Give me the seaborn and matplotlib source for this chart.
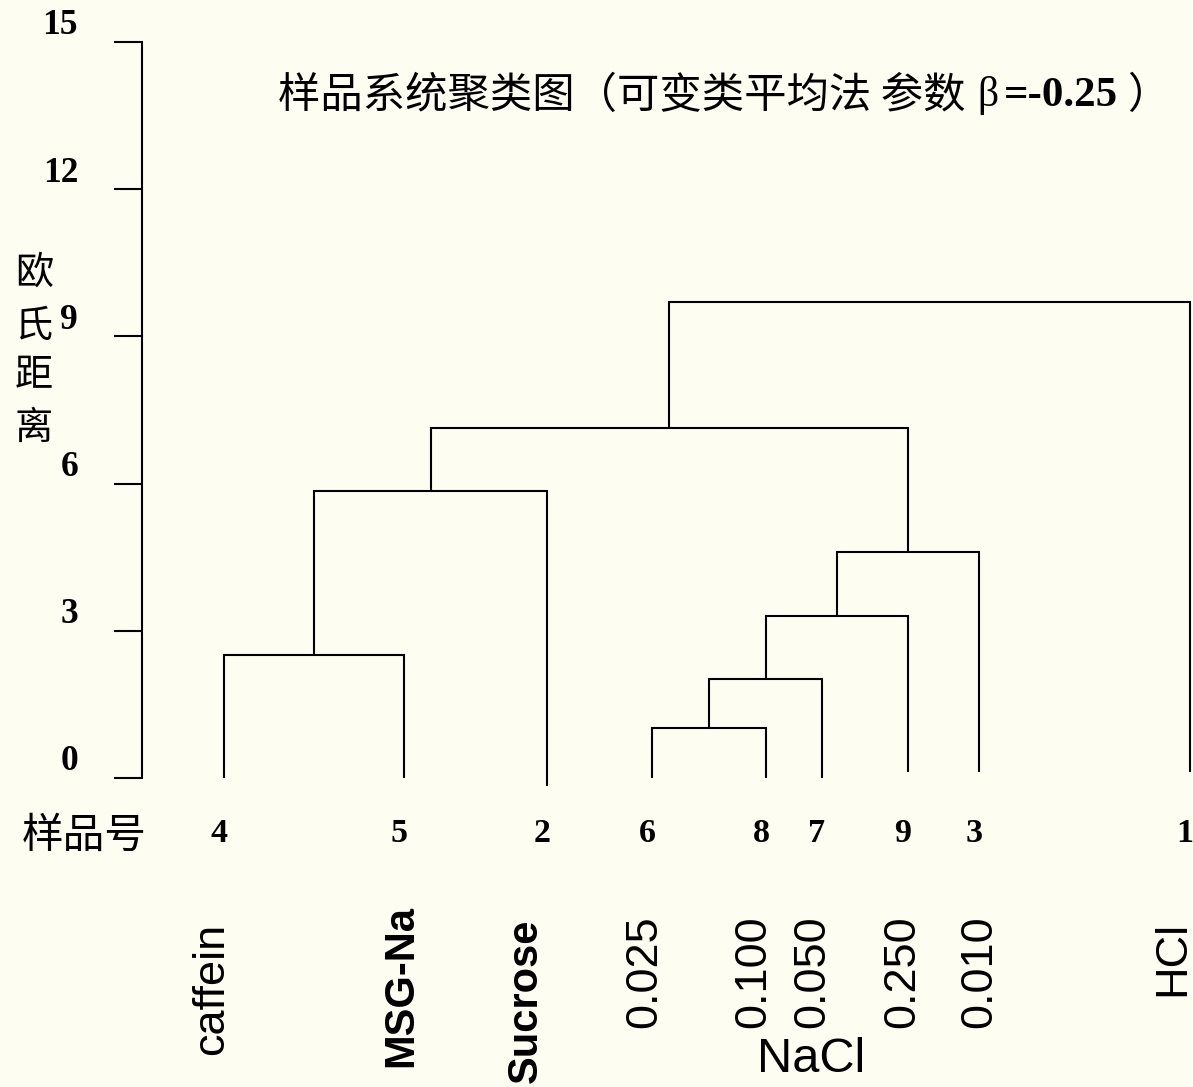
import matplotlib
matplotlib.use("Agg")
import matplotlib.pyplot as plt
import matplotlib.transforms as mtransforms
import numpy as np
import pandas as pd
import seaborn as sns

# ---- data -------------------------------------------------------------
# Sample numbers in dendrogram leaf order
sample_ids = ["4", "5", "2", "6", "8", "7", "9", "3", "1"]
# Sample descriptions written under each leaf
sample_names = ["caffein", "MSG-Na", "Sucrose", "0.025", "0.100",
                "0.050", "0.250", "0.010", "HCl"]
# Leaf positions along the horizontal axis
leaf_pos = [0.82, 2.62, 4.05, 5.10, 6.24, 6.80, 7.66, 8.37, 10.48]
# Height at which each leaf stem starts
leaf_base = [0.0, 0.0, -0.16, 0.0, 0.0, 0.0, 0.13, 0.13, 0.13]

# Agglomeration steps. Nodes 0-8 are the leaves; step k creates node 9 + k.
merge_left = [0, 3, 10, 11, 12, 9, 14, 15]
merge_right = [1, 4, 5, 6, 7, 2, 13, 8]
merge_height = [2.51, 1.02, 2.02, 3.30, 4.61, 5.85, 7.13, 9.70]

y_ticks = [0, 3, 6, 9, 12, 15]

# ---- style ------------------------------------------------------------
sns.set_style("white")
CJK = ["Noto Sans CJK SC", "DejaVu Sans"]
SERIF = ["Liberation Serif", "DejaVu Serif"]
SANS = ["Liberation Sans", "DejaVu Sans"]
plt.rcParams["font.family"] = CJK
plt.rcParams["axes.unicode_minus"] = False
plt.rcParams["text.color"] = "black"
plt.rcParams["ytick.color"] = "black"
plt.rcParams["ytick.labelcolor"] = "black"

BG = "#FDFDF1"
W, H = 1193, 1087
DPI = 100

fig = plt.figure(figsize=(W / DPI, H / DPI), dpi=DPI, facecolor=BG)
ax = fig.add_axes([142 / W, (H - 778) / H, (W - 142) / W, (778 - 42) / H])
ax.set_facecolor("none")

# ---- dendrogram links -------------------------------------------------
node_x = list(leaf_pos)
node_h = list(leaf_base)
rows = []
for k, (a, b, h) in enumerate(zip(merge_left, merge_right, merge_height)):
    xa, xb = node_x[a], node_x[b]
    for px, py in [(xa, node_h[a]), (xa, h), (xb, h), (xb, node_h[b])]:
        rows.append({"link": k, "x": px, "y": py})
    node_x.append((xa + xb) / 2)
    node_h.append(h)
links = pd.DataFrame(rows)

sns.lineplot(data=links, x="x", y="y", units="link", estimator=None,
             sort=False, color="black", linewidth=1.5, legend=False,
             ax=ax, clip_on=False)
for line in ax.get_lines():
    line.set_solid_joinstyle("miter")
    line.set_solid_capstyle("butt")

ax.set_xlim(0, 10.51)
ax.set_ylim(0, 15)
ax.set_xlabel("")
ax.set_ylabel("")
ax.set_xticks([])

# ---- y axis -----------------------------------------------------------
for side in ["top", "right", "bottom"]:
    ax.spines[side].set_visible(False)
ax.spines["left"].set_color("black")
ax.spines["left"].set_linewidth(1.5)
ax.set_yticks(y_ticks)
ax.set_yticklabels([str(t) for t in y_ticks])
ax.tick_params(axis="y", direction="out", length=20, width=1.5,
               color="black", labelcolor="black", pad=26, left=True)
shift_up = mtransforms.ScaledTranslation(0, 20 / DPI, fig.dpi_scale_trans)
for lab in ax.get_yticklabels():
    lab.set_fontfamily(SERIF)
    lab.set_fontweight("bold")
    lab.set_fontsize(25.5)
    lab.set_color("black")
    lab.set_transform(lab.get_transform() + shift_up)


def fig_xy(x, y):
    return x / W, 1 - y / H


# vertical axis title, one character per line
for ch, yc in zip("欧氏距离", [273, 326, 376, 428]):
    fig.text(*fig_xy(34, yc), ch, fontsize=27.5, family=CJK,
             ha="center", va="center", color="black")

# ---- leaf annotations -------------------------------------------------
fig.text(*fig_xy(22, 836), "样品号", fontsize=30, family=CJK,
         ha="left", va="center", color="black")

leaf_trans = mtransforms.blended_transform_factory(ax.transData, fig.transFigure)
num_off = mtransforms.ScaledTranslation(-5 / DPI, 0, fig.dpi_scale_trans)
for sid, xp in zip(sample_ids, leaf_pos):
    ax.text(xp, 1 - 834 / H, sid, transform=leaf_trans + num_off,
            fontsize=24.5, family=SERIF, fontweight="bold", color="black",
            ha="center", va="center", clip_on=False)

name_bottom = [1055, 1067, 1083, 1028, 1028, 1028, 1028, 1028, 996]
name_shift = [-12, -3, -21, -7, -12, -9, -5, 1, -17]
bold_names = {"MSG-Na", "Sucrose"}
for name, xp, yb, dx in zip(sample_names, leaf_pos, name_bottom, name_shift):
    bold = name in bold_names
    off = mtransforms.ScaledTranslation(dx / DPI, 0, fig.dpi_scale_trans)
    ax.text(xp, 1 - yb / H, name, transform=leaf_trans + off,
            rotation=90, fontsize=30 if bold else 32.5, family=SANS,
            fontweight="bold" if bold else "normal", color="black",
            ha="center", va="bottom", clip_on=False)

fig.text(*fig_xy(811, 1060), "NaCl", fontsize=35, family=SANS,
         ha="center", va="center", color="black")

# ---- title ------------------------------------------------------------
t1 = fig.text(*fig_xy(278, 96), "样品系统聚类图（可变类平均法 参数",
              fontsize=30.5, family=CJK, ha="left", va="center",
              color="black")
base_y = H - 106
t2 = ax.annotate("β", xy=(1, base_y), xycoords=(t1, "figure pixels"),
                 xytext=(12, 0), textcoords="offset pixels",
                 fontsize=30, family=SERIF, ha="left", va="baseline",
                 color="black", annotation_clip=False)
t3 = ax.annotate("=-0.25", xy=(1, base_y), xycoords=(t2, "figure pixels"),
                 xytext=(5, 0), textcoords="offset pixels",
                 fontsize=31, family=SERIF, fontweight="bold",
                 ha="left", va="baseline", color="black",
                 annotation_clip=False)
fig.text(*fig_xy(1148, 96), "）", fontsize=30.5, family=CJK,
         ha="center", va="center", color="black")

fig.savefig("out.png", dpi=DPI, facecolor=fig.get_facecolor())
